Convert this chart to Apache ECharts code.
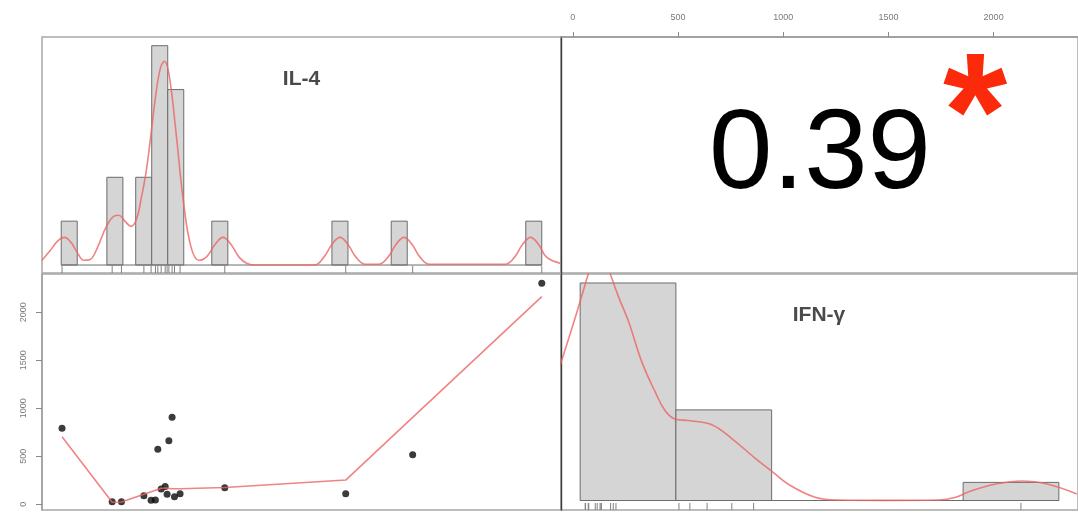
<!DOCTYPE html>
<html>
<head>
<meta charset="utf-8">
<script src="https://cdn.jsdelivr.net/npm/echarts@6/dist/echarts.min.js"></script>
<style>
  html, body { margin: 0; padding: 0; background: #ffffff; }
  #chart { width: 1078px; height: 513px; }
</style>
</head>
<body>
<div id="chart"></div>
<script>
// Paired measurements, sorted by IL-4
const il4Values = [0.05, 3.18, 3.76, 5.16, 5.61, 5.88, 6.03, 6.24, 6.49, 6.61, 6.72, 6.92, 7.07, 7.42, 10.21, 17.76, 21.94, 30.0];
const ifnValues = [792, 27, 27, 89, 42, 45, 573, 159, 187, 104, 663, 906, 79, 110, 173, 110, 516, 2302];
// Smoothed IFN-γ fitted at each IL-4 value
const ifnSmooth = [704, 21, 25, 104, 130, 146, 155, 167, 170, 168, 166, 163, 162, 162, 175, 253, 905, 2163];

const varNames = ['IL-4', 'IFN-γ'];
const corrValue = 0.39;
const corrStars = '*';

// IL-4 histogram bins
const il4BinStart = [0, 2.85, 4.65, 5.65, 6.65, 9.4, 16.9, 20.6, 29.0];
const il4BinWidth = 1;
const il4BinCounts = [1, 2, 2, 5, 4, 1, 1, 1, 1];

// IFN-γ histogram bins
const ifnBreaks = [0, 500, 1000, 1500, 2000, 2500];
const ifnCounts = [12, 5, 0, 0, 1];

// Kernel density curves
const il4DensX = [-1.2, -0.7, -0.2, 0.2, 0.6, 1.0, 1.4, 1.8, 2.3, 2.8, 3.3, 3.6, 4.0, 4.35, 4.7, 5.0, 5.3, 5.6, 5.9, 6.2, 6.45, 6.75, 7.17, 7.62, 8.1, 8.6, 9.1, 9.6, 10.1, 10.6, 11.1, 11.6, 12.2, 15.8, 16.4, 16.9, 17.4, 17.9, 18.4, 19.0, 19.8, 20.4, 20.9, 21.4, 21.9, 22.4, 23.0, 27.7, 28.3, 28.8, 29.3, 29.8, 30.3, 31.2];
const il4DensY = [0.006, 0.018, 0.031, 0.035, 0.029, 0.016, 0.006, 0.007, 0.024, 0.048, 0.062, 0.063, 0.055, 0.049, 0.058, 0.085, 0.118, 0.165, 0.215, 0.25, 0.258, 0.239, 0.167, 0.082, 0.023, 0.006, 0.011, 0.026, 0.035, 0.026, 0.010, 0.002, 0.0, 0.0, 0.010, 0.026, 0.035, 0.026, 0.010, 0.001, 0.001, 0.010, 0.026, 0.035, 0.026, 0.010, 0.001, 0.001, 0.010, 0.026, 0.035, 0.026, 0.010, 0.002];

const ifnDensX = [-104, -26, 20, 43, 100, 157, 200, 252, 322, 390, 444, 494, 565, 687, 792, 913, 1000, 1087, 1227, 1348, 1600, 1870, 1957, 2044, 2166, 2305, 2444, 2594];
const ifnDensY = [0.00083, 0.00112, 0.0013, 0.00139, 0.00158, 0.00139, 0.00125, 0.0011, 0.00085, 0.00067, 0.00055, 0.0005, 0.00049, 0.000465, 0.00038, 0.00026, 0.00018, 0.0001, 0.00002, 0.000003, 0.000001, 0.000003, 0.000018, 0.00006, 0.0001, 0.00012, 0.0001, 0.00004];

const ifnTicks = [0, 500, 1000, 1500, 2000];

// ---- derived series data ----
const n = il4Values.length;
const zip = (a, b) => a.map((v, i) => [v, b[i]]);

const il4Bars = il4BinStart.map((s, i) => [s, s + il4BinWidth, il4BinCounts[i] / (n * il4BinWidth)]);
const ifnBars = ifnCounts
  .map((c, i) => [ifnBreaks[i], ifnBreaks[i + 1], c / (n * (ifnBreaks[i + 1] - ifnBreaks[i]))])
  .filter(d => d[2] > 0);

const il4Base = [[il4BinStart[0], 0], [il4BinStart[il4BinStart.length - 1] + il4BinWidth, 0]];
const ifnBase = [[ifnBreaks[0], 0], [ifnBreaks[ifnBreaks.length - 1], 0]];

// ---- layout ----
const colL = { left: 42, width: 519 };
const colR = { left: 561, width: 518 };
const rowT = { top: 37, height: 236 };
const rowB = { top: 274, height: 236 };

const PINK = 'rgba(236, 100, 100, 0.8)';
const BORDER = '#a8a8a8';
const FONT = '"Liberation Sans", Arial, Helvetica, sans-serif';

function gridOf(c, r) {
  return {
    left: c.left, top: r.top, width: c.width, height: r.height,
    show: true, borderColor: BORDER, borderWidth: 1.5, backgroundColor: 'transparent'
  };
}

function histItem(params, api) {
  const p0 = api.coord([api.value(0), api.value(2)]);
  const p1 = api.coord([api.value(1), 0]);
  return {
    type: 'rect',
    shape: { x: p0[0], y: p0[1], width: p1[0] - p0[0], height: p1[1] - p0[1] },
    style: { fill: '#d5d5d5', stroke: '#6c6c6c', lineWidth: 1 }
  };
}

function rugItem(params, api) {
  const x = api.coord([api.value(0), 0])[0];
  const cs = params.coordSys;
  const yb = cs.y + cs.height;
  return {
    type: 'line',
    shape: { x1: x, y1: yb, x2: x, y2: yb - 7 },
    style: { stroke: '#808080', lineWidth: 1 }
  };
}

const plain = v => String(v);
const noLine = { axisLine: { show: false }, axisTick: { show: false }, axisLabel: { show: false }, splitLine: { show: false } };
const darkLeft = {
  axisLine: { show: true, onZero: false, lineStyle: { color: '#3c3c3c', width: 1.4 } },
  axisTick: { show: false }, axisLabel: { show: false }, splitLine: { show: false }
};

const chart = echarts.init(document.getElementById('chart'), null, { renderer: 'canvas' });

chart.setOption({
  animation: false,
  backgroundColor: '#ffffff',
  grid: [gridOf(colL, rowT), gridOf(colR, rowT), gridOf(colL, rowB), gridOf(colR, rowB)],
  xAxis: [
    { gridIndex: 0, type: 'value', min: -1.2, max: 31.2, ...noLine },
    {
      gridIndex: 1, type: 'value', min: -56, max: 2401, position: 'top',
      axisLine: { show: true, onZero: false, lineStyle: { color: '#999999', width: 1.5 } },
      axisTick: { show: true, length: 5, customValues: ifnTicks, lineStyle: { color: '#888888' } },
      axisLabel: { show: true, customValues: ifnTicks, formatter: plain, fontSize: 9, color: '#7a7a7a', fontFamily: FONT, margin: 15 },
      splitLine: { show: false }
    },
    { gridIndex: 2, type: 'value', min: -1.2, max: 31.2, ...noLine },
    { gridIndex: 3, type: 'value', min: -100, max: 2600, ...noLine }
  ],
  yAxis: [
    { gridIndex: 0, type: 'value', min: -0.0101, max: 0.2888, ...noLine },
    { gridIndex: 1, type: 'value', min: 0, max: 1, ...darkLeft },
    {
      gridIndex: 2, type: 'value', min: -59, max: 2399,
      axisLine: { show: true, onZero: false, lineStyle: { color: '#a0a0a0', width: 1.5 } },
      axisTick: { show: true, length: 6, customValues: ifnTicks, lineStyle: { color: '#888888' } },
      axisLabel: { show: true, customValues: ifnTicks, formatter: plain, rotate: 90, fontSize: 9, color: '#7a7a7a', fontFamily: FONT, margin: 14 },
      splitLine: { show: false }
    },
    { gridIndex: 3, type: 'value', min: -0.0000582, max: 0.0013885, ...darkLeft }
  ],
  series: [
    // IL-4 histogram panel
    { type: 'line', xAxisIndex: 0, yAxisIndex: 0, data: il4Base, symbol: 'none', lineStyle: { color: '#6c6c6c', width: 1 }, silent: true },
    { type: 'custom', xAxisIndex: 0, yAxisIndex: 0, data: il4Bars, renderItem: histItem, encode: { x: [0, 1], y: 2 }, silent: true },
    { type: 'line', xAxisIndex: 0, yAxisIndex: 0, data: zip(il4DensX, il4DensY), smooth: 0.4, symbol: 'none', lineStyle: { color: PINK, width: 1.6 }, clip: true, silent: true },
    { type: 'custom', xAxisIndex: 0, yAxisIndex: 0, data: il4Values.map(v => [v, 0]), renderItem: rugItem, encode: { x: 0, y: 1 }, silent: true },

    // scatter panel
    { type: 'line', xAxisIndex: 2, yAxisIndex: 2, data: zip(il4Values, ifnSmooth), symbol: 'none', lineStyle: { color: PINK, width: 1.6 }, silent: true },
    { type: 'scatter', xAxisIndex: 2, yAxisIndex: 2, data: zip(il4Values, ifnValues), symbol: 'circle', symbolSize: 7, itemStyle: { color: '#0a0a0a' }, silent: true },

    // IFN-γ histogram panel
    { type: 'line', xAxisIndex: 3, yAxisIndex: 3, data: ifnBase, symbol: 'none', lineStyle: { color: '#6c6c6c', width: 1 }, silent: true },
    { type: 'custom', xAxisIndex: 3, yAxisIndex: 3, data: ifnBars, renderItem: histItem, encode: { x: [0, 1], y: 2 }, silent: true },
    { type: 'line', xAxisIndex: 3, yAxisIndex: 3, data: zip(ifnDensX, ifnDensY), smooth: 0.4, symbol: 'none', lineStyle: { color: PINK, width: 1.6 }, clip: true, silent: true },
    { type: 'custom', xAxisIndex: 3, yAxisIndex: 3, data: ifnValues.map(v => [v, 0]), renderItem: rugItem, encode: { x: 0, y: 1 }, silent: true }
  ],
  graphic: [
    {
      type: 'text', x: colL.left + colL.width / 2, y: 79,
      style: { text: varNames[0], fontSize: 21, fontWeight: 'bold', fontFamily: FONT, fill: '#4a4a4a', align: 'center', verticalAlign: 'middle' }
    },
    {
      type: 'text', x: colR.left + colR.width / 2, y: 157,
      style: { text: corrValue.toFixed(2), fontSize: 114, fontFamily: FONT, fill: '#000000', align: 'center', verticalAlign: 'middle' }
    },
    {
      type: 'text', x: 975, y: 122,
      style: { text: corrStars, fontSize: 165, fontWeight: 'bold', fontFamily: FONT, fill: '#fb2a0a', align: 'center', verticalAlign: 'middle' }
    },
    {
      type: 'text', x: colR.left + colR.width / 2 - 1, y: 315,
      style: { text: varNames[1], fontSize: 21, fontWeight: 'bold', fontFamily: FONT, fill: '#4a4a4a', align: 'center', verticalAlign: 'middle' }
    }
  ]
});
</script>
</body>
</html>
